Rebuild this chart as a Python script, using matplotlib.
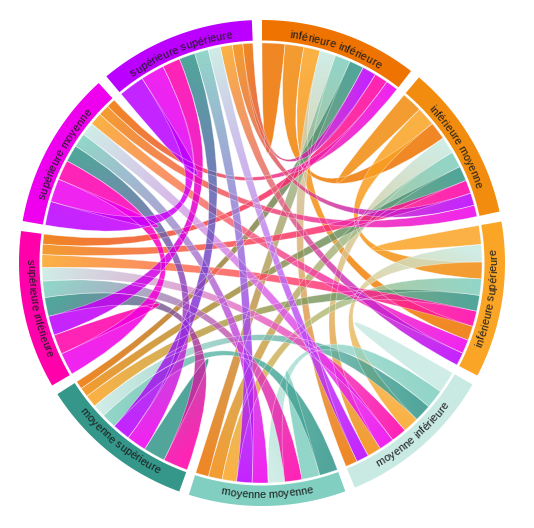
import numpy as np
import matplotlib
matplotlib.use("Agg")
import matplotlib.pyplot as plt
from matplotlib.path import Path
from matplotlib.patches import PathPatch
from matplotlib.font_manager import FontProperties, findfont
from matplotlib.ft2font import FT2Font
from matplotlib.colors import to_rgb

# ---------------- data ----------------
names = ["inférieure inférieure", "inférieure moyenne", "inférieure supérieure",
         "moyenne inférieure", "moyenne moyenne", "moyenne supérieure",
         "supérieure inférieure", "supérieure moyenne", "supérieure supérieure"]
colors = ["#EE7300", "#F28C0F", "#FBA526",
          "#C8EAE2", "#80CFC0", "#34978A",
          "#FF00AA", "#EE00EE", "#BB00FF"]
# rows: from group, columns: to group (order of names)
row_ii = [23, 19, 16.5, 16, 15.5, 14.5, 13.5, 12.5, 14]
row_im = [18, 21, 19, 17, 16, 15, 13.5, 11.5, 12.5]
row_is = [14.5, 17, 19, 17.5, 16.5, 16, 15.5, 14, 13]
row_mi = [12, 14, 16, 22, 19, 17.5, 15.5, 15, 12.5]
row_mm = [13, 14, 14.5, 16.5, 18, 18.5, 17.5, 16, 15.5]
row_ms = [8, 9.5, 12.5, 13, 15, 22, 25, 20, 18]
row_si = [10, 10.5, 13, 13.5, 16.5, 19, 20, 22.5, 19.5]
row_sm = [9, 11, 12.5, 13.5, 14, 17, 20, 23.5, 24]
row_ss = [10, 10.5, 12, 12.5, 14, 16, 18, 24, 26]
matrix = [row_ii, row_im, row_is, row_mi, row_mm, row_ms, row_si, row_sm, row_ss]

# ---------------- layout ----------------
W, H = 534, 528
CX, CY = 262, 263
R_RIB = 220.0
R_IN = 222.5
R_OUT = 243.0
PAD = np.deg2rad(2.4)
FS = 7.9
ALPHA = 0.86

fig = plt.figure(figsize=(W / 100, H / 100), dpi=100)
ax = fig.add_axes([0, 0, 1, 1])
ax.axis("off")

M = np.array(matrix, dtype=float)
n = len(names)
k = (2 * np.pi - n * PAD) / M.sum()

group_angles = []
sub_angles = {}
x = 0.0
for i in range(n):
    x0 = x
    order = sorted(range(n), key=lambda j: -M[i, j])
    for j in order:
        a0 = x
        x += M[i, j] * k
        sub_angles[(i, j)] = (a0, x)
    group_angles.append((x0, x))
    x += PAD


def pt(a, r):
    return (CX + r * np.sin(a), CY - r * np.cos(a))


def arc_pts(a0, a1, r):
    m = max(3, int(abs(a1 - a0) * 180))
    return [pt(a, r) for a in np.linspace(a0, a1, m)]


def ribbon_path(s, t):
    sa0, sa1 = s
    ta0, ta1 = t
    verts, codes = [], []
    sv = arc_pts(sa0, sa1, R_RIB)
    verts += sv
    codes += [Path.MOVETO] + [Path.LINETO] * (len(sv) - 1)
    if (sa0, sa1) != (ta0, ta1):
        verts += [(CX, CY), pt(ta0, R_RIB)]
        codes += [Path.CURVE3, Path.CURVE3]
        tv = arc_pts(ta0, ta1, R_RIB)
        verts += tv[1:]
        codes += [Path.LINETO] * (len(tv) - 1)
    verts += [(CX, CY), pt(sa0, R_RIB)]
    codes += [Path.CURVE3, Path.CURVE3]
    verts += [(0, 0)]
    codes += [Path.CLOSEPOLY]
    return Path(verts, codes)


def draw_ribbon(i, j):
    s = sub_angles[(i, j)]
    t = sub_angles[(j, i)]
    path = ribbon_path(s, t)
    ext = path.get_extents()
    xs = np.arange(np.floor(ext.x0) - 1, np.ceil(ext.x1) + 2, 1.0)
    ys = np.arange(np.floor(ext.y0) - 1, np.ceil(ext.y1) + 2, 1.0)
    X, Y = np.meshgrid(xs, ys)
    p0 = np.array(pt(np.mean(s), R_RIB))
    p1 = np.array(pt(np.mean(t), R_RIB))
    c0 = np.array(to_rgb(colors[j]))
    c1 = np.array(to_rgb(colors[i]))
    d = p1 - p0
    L2 = d @ d
    if L2 < 1:
        u = np.zeros_like(X)
    else:
        u = np.clip(((X - p0[0]) * d[0] + (Y - p0[1]) * d[1]) / L2, 0, 1)
    img = c0[None, None, :] + (c1 - c0)[None, None, :] * u[..., None]
    im = ax.imshow(img, extent=(xs[0], xs[-1], ys[0], ys[-1]), origin="lower",
                   alpha=ALPHA, interpolation="bilinear", zorder=2)
    patch = PathPatch(path, facecolor="none", edgecolor="white", lw=0.5,
                      alpha=0.45, zorder=3)
    ax.add_patch(patch)
    im.set_clip_path(patch)


for i in range(n):
    for j in range(i, n):
        draw_ribbon(i, j)

# group arcs
for i, (a0, a1) in enumerate(group_angles):
    outer = arc_pts(a0, a1, R_OUT)
    inner = arc_pts(a1, a0, R_IN)
    verts = outer + inner + [outer[0]]
    codes = [Path.MOVETO] + [Path.LINETO] * (len(verts) - 2) + [Path.CLOSEPOLY]
    ax.add_patch(PathPatch(Path(verts, codes), facecolor=colors[i],
                           edgecolor="none", zorder=4))

# curved labels
fp = FontProperties(family="Liberation Sans", size=FS)
font = FT2Font(findfont(fp))
font.set_size(FS, 100)


def adv(c):
    g = font.load_char(ord(c))
    return g.linearHoriAdvance / 65536.0


for i, (a0, a1) in enumerate(group_angles):
    label = names[i]
    mid = (a0 + a1) / 2
    middeg = np.degrees(mid) % 360
    widths = [adv(c) for c in label]
    total = sum(widths)
    flipped = 90 < middeg < 270
    if not flipped:
        r_t = 226.5
        cur = mid - (total / 2) / r_t
        for c, w in zip(label, widths):
            ca = cur + (w / 2) / r_t
            px, py = pt(ca, r_t)
            ax.text(px, py, c, fontproperties=fp, color="#1c1c1c",
                    rotation=-np.degrees(ca), rotation_mode="anchor",
                    ha="center", va="baseline", zorder=5)
            cur += w / r_t
    else:
        r_t = 235.0
        cur = mid + (total / 2) / r_t
        for c, w in zip(label, widths):
            ca = cur - (w / 2) / r_t
            px, py = pt(ca, r_t)
            ax.text(px, py, c, fontproperties=fp, color="#1c1c1c",
                    rotation=180 - np.degrees(ca), rotation_mode="anchor",
                    ha="center", va="baseline", zorder=5)
            cur -= w / r_t

ax.set_aspect("auto")
ax.set_xlim(0, W)
ax.set_ylim(H, 0)
fig.savefig("out.png", dpi=100, facecolor="white")
